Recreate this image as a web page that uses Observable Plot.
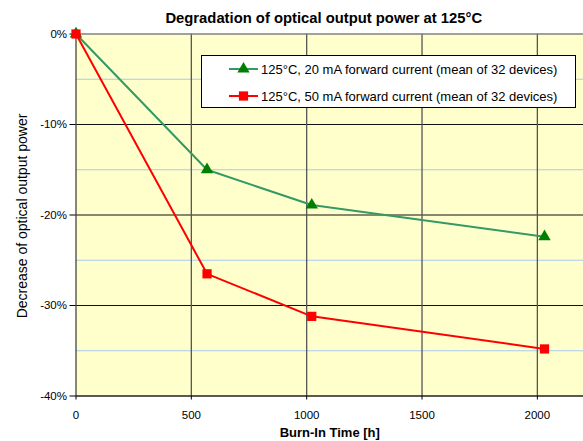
<!DOCTYPE html>
<html>
<head>
<meta charset="utf-8">
<script src="https://cdn.jsdelivr.net/npm/d3@7"></script>
<script src="https://cdn.jsdelivr.net/npm/@observablehq/plot@0.6"></script>
<style>
  html, body { margin: 0; padding: 0; background: #fff; }
  #wrap { position: relative; width: 583px; height: 441px; font-family: "Liberation Sans", Arial, sans-serif; }
  #legend { position: absolute; left: 201px; top: 55px; width: 375px; height: 53px; background: #fff; border: 1px solid #000; box-sizing: border-box; font-size: 13px; color: #000; }
  .row { position: absolute; left: 27px; height: 16px; display: flex; align-items: center; }
  .row span { margin-left: 2px; white-space: nowrap; }
</style>
</head>
<body>
<div id="wrap"></div>
<script>
const title = "Degradation of optical output power at 125°C";
const xLabel = "Burn-In Time [h]";
const yLabel = "Decrease of optical output power";
const seriesNames = ["125°C, 20 mA forward current (mean of 32 devices)", "125°C, 50 mA forward current (mean of 32 devices)"];
const hours = [0, 568, 1022, 2031];
const power20mA = [0, -15.0, -18.9, -22.4];
const power50mA = [0, -26.5, -31.2, -34.8];
const xTicks = [0, 500, 1000, 1500, 2000];
const yTicks = [0, -10, -20, -30, -40];
const yMinorTicks = [-5, -15, -25, -35];

const green = hours.map((h, i) => ({h, v: power20mA[i]}));
const red = hours.map((h, i) => ({h, v: power50mA[i]}));

const chart = Plot.plot({
  width: 583, height: 441,
  marginLeft: 75.5, marginRight: 0, marginTop: 33.5, marginBottom: 45.5,
  style: {fontFamily: "'Liberation Sans', Arial, sans-serif", fontSize: "11px", background: "#fff", color: "#000"},
  x: {domain: [0, 2200]},
  y: {domain: [-40, 0]},
  marks: [
    Plot.frame({fill: "#ffffcc", stroke: null}),
    Plot.ruleY(yMinorTicks, {stroke: "#a6caf0", strokeWidth: 1}),
    Plot.ruleY(yTicks.filter(d => d !== 0 && d !== -40), {stroke: "#111", strokeWidth: 1}),
    Plot.ruleX(xTicks.filter(d => d !== 0), {stroke: "#555", strokeWidth: 1.3}),
    Plot.ruleY([0], {stroke: "#808080", strokeWidth: 1.3}),
    Plot.ruleY([-40], {stroke: "#222", strokeWidth: 1.3}),
    Plot.ruleX([0], {stroke: "#444", strokeWidth: 1.3}),
    Plot.axisY({ticks: yTicks, tickFormat: d => d + "%", tickSize: 6, tickPadding: 3, fontSize: 11.5, label: null}),
    Plot.axisX({ticks: xTicks, tickFormat: d => String(d), tickSize: 4, tickPadding: 11, fontSize: 11.5, label: null}),
    Plot.line(green, {x: "h", y: "v", stroke: "#339966", strokeWidth: 2}),
    Plot.line(red, {x: "h", y: "v", stroke: "#ff0000", strokeWidth: 2}),
    Plot.dot(green, {x: "h", y: "v", symbol: "triangle", r: 4.6, fill: "#008000", stroke: null}),
    Plot.dot(red, {x: "h", y: "v", symbol: "square", r: 5.2, fill: "#ff0000", stroke: null}),
    Plot.text([title], {frameAnchor: "top", dx: -6, dy: -16, lineAnchor: "middle", fontWeight: "bold", fontSize: 14.8}),
    Plot.text([xLabel], {frameAnchor: "bottom", dy: 36.5, lineAnchor: "middle", fontWeight: "bold", fontSize: 13}),
    Plot.text([yLabel], {frameAnchor: "left", dx: -53, dy: 1, rotate: -90, textAnchor: "middle", lineAnchor: "middle", fontSize: 14})
  ]
});
const wrap = document.getElementById("wrap");
wrap.appendChild(chart);

const legend = document.createElement("div");
legend.id = "legend";
const samples = [
  {name: seriesNames[0], line: "#339966", marker: "#008000", sym: d3.symbolTriangle, size: 65},
  {name: seriesNames[1], line: "#ff0000", marker: "#ff0000", sym: d3.symbolSquare, size: 85}
];
samples.forEach((s, i) => {
  const row = document.createElement("div");
  row.className = "row";
  row.style.top = (i === 0 ? 5 : 32) + "px";
  const svg = d3.create("svg").attr("width", 30).attr("height", 16);
  svg.append("line").attr("x1", 0).attr("x2", 29).attr("y1", 8).attr("y2", 8).attr("stroke", s.line).attr("stroke-width", 2);
  svg.append("path").attr("d", d3.symbol(s.sym, s.size)()).attr("transform", "translate(14.5,8)").attr("fill", s.marker);
  row.appendChild(svg.node());
  const sp = document.createElement("span");
  sp.textContent = s.name;
  row.appendChild(sp);
  legend.appendChild(row);
});
wrap.appendChild(legend);
</script>
</body>
</html>
